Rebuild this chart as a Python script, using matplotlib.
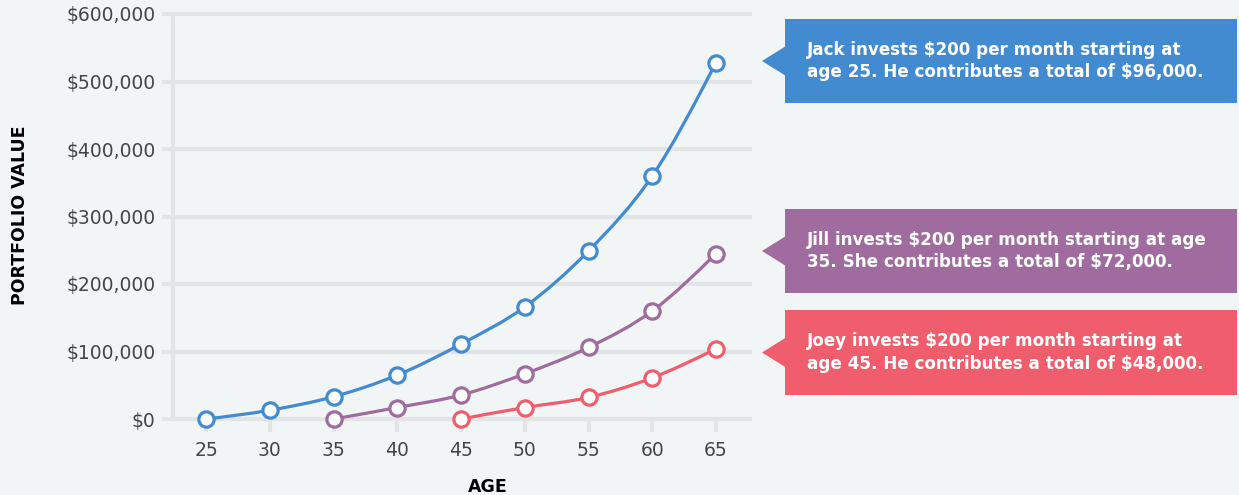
import matplotlib
matplotlib.use("Agg")
import matplotlib.pyplot as plt
from matplotlib.path import Path
from matplotlib.patches import PathPatch, Polygon, Rectangle
import numpy as np

# ---- data ----
ages = [25, 30, 35, 40, 45, 50, 55, 60, 65]
jack_ages = [25, 30, 35, 40, 45, 50, 55, 60, 65]
jack_vals = [0, 13000, 33000, 65000, 111000, 166000, 249000, 360000, 528000]
jill_ages = [35, 40, 45, 50, 55, 60, 65]
jill_vals = [0, 17000, 35500, 67000, 106000, 160000, 245000]
joey_ages = [45, 50, 55, 60, 65]
joey_vals = [0, 17000, 32000, 61000, 104000]
yticks = [0, 100000, 200000, 300000, 400000, 500000, 600000]
ytick_labels = ["$0", "$100,000", "$200,000", "$300,000", "$400,000", "$500,000", "$600,000"]
notes = [
    "Jack invests $200 per month starting at\nage 25. He contributes a total of $96,000.",
    "Jill invests $200 per month starting at age\n35. She contributes a total of $72,000.",
    "Joey invests $200 per month starting at\nage 45. He contributes a total of $48,000.",
]

BLUE = "#428bd0"
PURPLE = "#a06b9e"
RED = "#f05d6c"
BG = "#f2f5f6"
GRID = "#e2e4e6"
TXT = "#454545"
FONT = "DejaVu Sans"

W, H = 1239, 495
fig = plt.figure(figsize=(W / 100, H / 100), dpi=100, facecolor=BG)

# axes in pixel coordinates: x 164..750, y 14..419
L, R, T, B = 164, 750, 14, 419
ax = fig.add_axes([L / W, 1 - B / H, (R - L) / W, (B - T) / H])
ax.set_facecolor(BG)
px_per_yr = (716 - 206) / 40
x0 = 25 - (206 - L) / px_per_yr
x1 = 65 + (R - 716) / px_per_yr
ax.set_xlim(x0, x1)
ax.set_ylim(0, 600000)
for s in ax.spines.values():
    s.set_visible(False)

for v in yticks:
    ax.axhline(v, color=GRID, lw=3, zorder=1, clip_on=False)
xa = 25 - (206 - 173) / px_per_yr
ax.plot([xa, xa], [0, 600000], color=GRID, lw=3, zorder=1, clip_on=False, solid_capstyle="butt")

ax.set_yticks(yticks)
ax.set_yticklabels(ytick_labels)
ax.set_xticks(ages)
ax.tick_params(axis="y", length=0, pad=6, labelsize=13.5, labelcolor=TXT)
ax.tick_params(axis="x", length=9.5, width=3, color=GRID, pad=6, labelsize=13.5, labelcolor=TXT)
for lab in ax.get_xticklabels() + ax.get_yticklabels():
    lab.set_fontfamily(FONT)


def smooth_path(xs, ys):
    """Monotone cubic (d3 curveMonotoneX style) Bezier path through the points."""
    xs = np.asarray(xs, float)
    ys = np.asarray(ys, float)
    n = len(xs)
    h = np.diff(xs)
    s = np.diff(ys) / h
    m = np.zeros(n)
    for i in range(1, n - 1):
        p = (s[i - 1] * h[i] + s[i] * h[i - 1]) / (h[i - 1] + h[i])
        m[i] = (np.sign(s[i - 1]) + np.sign(s[i])) * min(abs(s[i - 1]), abs(s[i]), 0.5 * abs(p))
    m[0] = (3 * s[0] - m[1]) / 2
    m[-1] = (3 * s[-1] - m[-2]) / 2
    verts = [(xs[0], ys[0])]
    codes = [Path.MOVETO]
    for i in range(n - 1):
        d = h[i] / 3
        verts += [(xs[i] + d, ys[i] + m[i] * d),
                  (xs[i + 1] - d, ys[i + 1] - m[i + 1] * d),
                  (xs[i + 1], ys[i + 1])]
        codes += [Path.CURVE4] * 3
    return Path(verts, codes)


for xs, ys, c in [(jack_ages, jack_vals, BLUE), (jill_ages, jill_vals, PURPLE), (joey_ages, joey_vals, RED)]:
    patch = PathPatch(smooth_path(xs, ys), facecolor="none", edgecolor=c, lw=2.3, zorder=3, clip_on=False)
    ax.add_patch(patch)
    ax.plot(xs, ys, linestyle="none", marker="o", markersize=11, markerfacecolor="white",
            markeredgecolor=c, markeredgewidth=2.3, zorder=4, clip_on=False)

fig.text(20 / W, 1 - 215 / H, "PORTFOLIO VALUE", rotation=90, ha="center", va="center",
         fontsize=12.5, fontweight="bold", color="black", family=FONT)
fig.text(488 / W, 1 - 487 / H, "AGE", ha="center", va="center",
         fontsize=12.5, fontweight="bold", color="black", family=FONT)

# overlay for callouts in pixel coords
ov = fig.add_axes([0, 0, 1, 1], facecolor="none")
ov.set_xlim(0, W)
ov.set_ylim(H, 0)
ov.axis("off")
boxes = [(19, 103, BLUE), (209, 293, PURPLE), (310, 395, RED)]
for (top, bot, c), note in zip(boxes, notes):
    ov.add_patch(Rectangle((785, top), 1237 - 785, bot - top, facecolor=c, edgecolor="none"))
    mid = (top + bot) / 2
    ov.add_patch(Polygon([(786, mid - 15), (786, mid + 15), (762, mid)], closed=True,
                         facecolor=c, edgecolor="none"))
    ov.text(807, mid, note, ha="left", va="center", color="white", fontsize=12.1,
            fontweight="bold", family=FONT, linespacing=1.3)

fig.savefig("out.png", dpi=100, facecolor=BG)
